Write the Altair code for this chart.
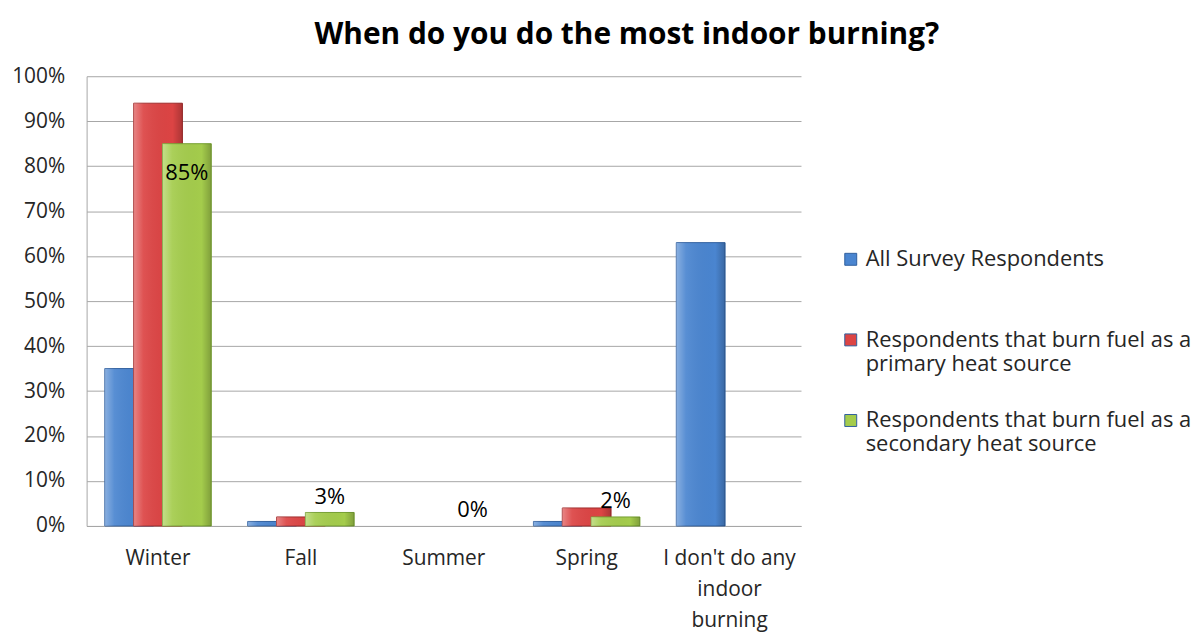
import altair as alt
import pandas as pd

categories = ["Winter", "Fall", "Summer", "Spring", "I don't do any indoor burning"]
series = [
    "All Survey Respondents",
    "Respondents that burn fuel as a primary heat source",
    "Respondents that burn fuel as a secondary heat source",
]
all_resp = [0.35, 0.01, 0.0, 0.01, 0.63]
primary = [0.94, 0.02, 0.0, 0.04, None]
secondary = [0.85, 0.03, 0.0, 0.02, None]
colors = ["#4a85d0", "#dc4444", "#a4cc4c"]
strokes = ["#2f5f9e", "#a02a2a", "#76a032"]

cat_lines = {"I don't do any indoor burning": ["I don't do any", "indoor", "burning"]}
series_lines = {
    series[0]: ["All Survey Respondents", " "],
    series[1]: ["Respondents that burn fuel as a", "primary heat source"],
    series[2]: ["Respondents that burn fuel as a", "secondary heat source"],
}

rows = []
for s, vals in zip(series, [all_resp, primary, secondary]):
    for c, v in zip(categories, vals):
        rows.append({"Category": c, "Series": s, "Value": v})
df = pd.DataFrame(rows)


def split_expr(mapping):
    expr = "datum.label"
    for k, lines in mapping.items():
        arr = "[" + ",".join("'" + l.replace("'", "\\'") + "'" for l in lines) + "]"
        key = k.replace("'", "\\'")
        expr = f"datum.label == '{key}' ? {arr} : ({expr})"
    return expr


FONT = "Open Sans"
FS = 21
BAR_W = 49

x_enc = alt.X(
    "Category:N",
    sort=categories,
    scale=alt.Scale(domain=categories, paddingInner=0.394, paddingOuter=0.197),
    axis=alt.Axis(
        title=None,
        labelAngle=0,
        labelExpr=split_expr(cat_lines),
        labelLineHeight=31,
        labelPadding=22,
        tickSize=0,
        grid=False,
        domainColor="#a6a6a6",
    ),
)
xo_enc = alt.XOffset(
    "Series:N", sort=series, scale=alt.Scale(domain=series, paddingInner=0, paddingOuter=0)
)
y_enc = alt.Y(
    "Value:Q",
    scale=alt.Scale(domain=[0, 1]),
    axis=alt.Axis(
        title=None,
        format=".0%",
        values=[i / 10 for i in range(11)],
        gridColor="#a6a6a6",
        domainColor="#a6a6a6",
        tickSize=0,
        labelPadding=22,
    ),
)
color_enc = alt.Color(
    "Series:N",
    sort=series,
    scale=alt.Scale(domain=series, range=colors),
    legend=alt.Legend(
        title=None,
        orient="none",
        legendX=757,
        legendY=173,
        symbolType="square",
        symbolSize=144,
        symbolStrokeWidth=1,
        labelExpr=split_expr(series_lines),
        labelOffset=4,
        labelFontSize=22,
        rowPadding=35,
        labelLimit=400,
    ),
)

shade = alt.Gradient(
    gradient="linear",
    x1=0, x2=1, y1=0, y2=0,
    stops=[
        alt.GradientStop(color="rgba(255,255,255,0.35)", offset=0),
        alt.GradientStop(color="rgba(255,255,255,0.08)", offset=0.2),
        alt.GradientStop(color="rgba(0,0,0,0)", offset=0.8),
        alt.GradientStop(color="rgba(0,0,0,0.22)", offset=1),
    ],
)

base = alt.Chart(df).transform_filter(alt.expr.isValid(alt.datum.Value))
layers = []
for s, st in zip(series, strokes):
    sub = base.transform_filter(alt.datum.Series == s).transform_filter(alt.datum.Value > 0)
    layers.append(
        sub.mark_bar(width=BAR_W, stroke=st, strokeWidth=1).encode(
            x=x_enc, xOffset=xo_enc, y=y_enc, color=color_enc
        )
    )
    layers.append(
        sub.mark_bar(width=BAR_W, fill=shade).encode(
            x=x_enc, xOffset=xo_enc, y=y_enc
        )
    )

lab = base.transform_filter(alt.datum.Series == series[2])
layers.append(
    lab.transform_filter(alt.datum.Value >= 0.5)
    .mark_text(baseline="top", dy=19, fontSize=22, font=FONT, color="#000000")
    .encode(x=x_enc, xOffset=xo_enc, y=y_enc, text=alt.Text("Value:Q", format=".0%"))
)
layers.append(
    lab.transform_filter(alt.datum.Value < 0.5)
    .mark_text(baseline="bottom", dy=-4, fontSize=22, font=FONT, color="#000000")
    .encode(x=x_enc, xOffset=xo_enc, y=y_enc, text=alt.Text("Value:Q", format=".0%"))
)

chart = (
    alt.layer(*layers)
    .properties(
        width=718,
        height=452,
        padding={"left": 79, "top": 67, "right": 397, "bottom": 106},
        autosize=alt.AutoSizeParams(type="none"),
        title=alt.TitleParams(
            "When do you do the most indoor burning?",
            fontSize=30,
            font=FONT,
            fontWeight="bold",
            color="#000000",
            anchor="middle",
            frame="group",
            dx=184,
            offset=15,
        ),
    )
    .configure_view(stroke="transparent")
    .configure_axis(labelFont=FONT, labelFontSize=FS, labelColor="#262626")
    .configure_legend(labelFont=FONT, labelFontSize=22, labelColor="#262626")
)

chart.save("out.html", embed_options={"renderer": "svg", "actions": False})
